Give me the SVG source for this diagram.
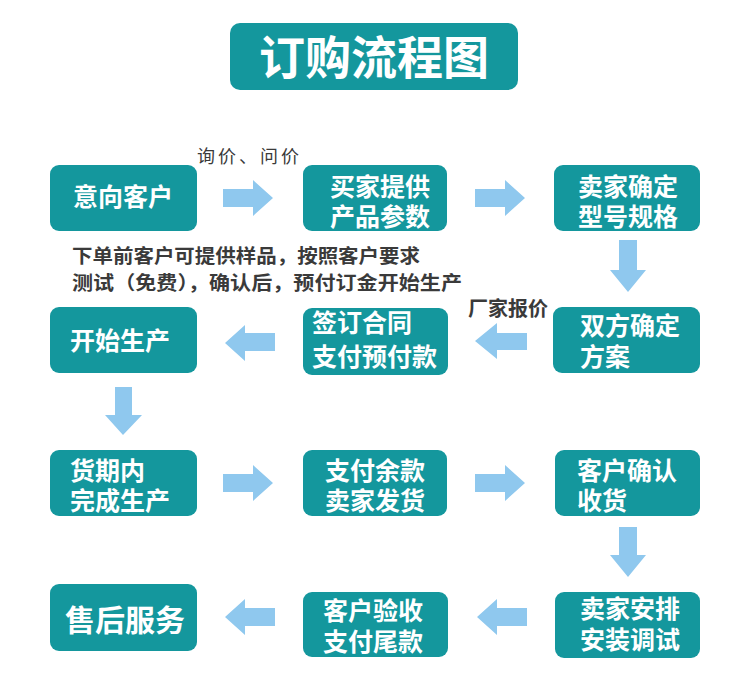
<svg xmlns="http://www.w3.org/2000/svg" width="750" height="681" viewBox="0 0 750 681">
<style>
.box{fill:#14979d;}
.bt{font-family:"Noto Sans CJK SC","Noto Sans",sans-serif;font-weight:bold;font-size:25px;fill:#ffffff;}
.nt{font-family:"Noto Sans CJK SC","Noto Sans",sans-serif;font-size:19px;fill:#3a3a3a;}
.arr{fill:#8fc8ee;}
</style>
<rect width="750" height="681" fill="#ffffff"/>
<g id="title">
<rect x="230" y="23" width="288" height="67" rx="10" class="box"/>
<text x="374" y="74" text-anchor="middle" class="bt" style="font-size:46px">订购流程图</text>
</g>
<g id="n1"><rect x="50" y="165" width="147" height="66" rx="9" class="box"/><text x="73" y="206" class="bt">意向客户</text></g>
<g id="n2"><rect x="303" y="165" width="144" height="66" rx="9" class="box"/><text class="bt"><tspan x="330" y="196">买家提供</tspan><tspan x="330" y="226">产品参数</tspan></text></g>
<g id="n3"><rect x="554" y="165" width="146" height="66" rx="9" class="box"/><text class="bt"><tspan x="578" y="196">卖家确定</tspan><tspan x="578" y="226">型号规格</tspan></text></g>
<g id="n4"><rect x="553" y="307" width="147" height="66" rx="9" class="box"/><text class="bt"><tspan x="580" y="335">双方确定</tspan><tspan x="580" y="366">方案</tspan></text></g>
<g id="n5"><rect x="303" y="308" width="145" height="67" rx="9" class="box"/><text class="bt"><tspan x="312" y="332">签订合同</tspan><tspan x="312" y="366">支付预付款</tspan></text></g>
<g id="n6"><rect x="50" y="307" width="147" height="66" rx="9" class="box"/><text x="70" y="350" class="bt">开始生产</text></g>
<g id="n7"><rect x="50" y="450" width="147" height="66" rx="9" class="box"/><text class="bt"><tspan x="70" y="480">货期内</tspan><tspan x="70" y="510">完成生产</tspan></text></g>
<g id="n8"><rect x="303" y="450" width="144" height="66" rx="9" class="box"/><text class="bt"><tspan x="325" y="480">支付余款</tspan><tspan x="325" y="510">卖家发货</tspan></text></g>
<g id="n9"><rect x="555" y="450" width="145" height="66" rx="9" class="box"/><text class="bt"><tspan x="577" y="480">客户确认</tspan><tspan x="577" y="510">收货</tspan></text></g>
<g id="n10"><rect x="555" y="592" width="145" height="66" rx="9" class="box"/><text class="bt"><tspan x="580" y="618">卖家安排</tspan><tspan x="580" y="649">安装调试</tspan></text></g>
<g id="n11"><rect x="303" y="592" width="145" height="65" rx="9" class="box"/><text class="bt"><tspan x="323" y="620">客户验收</tspan><tspan x="323" y="651">支付尾款</tspan></text></g>
<g id="n12"><rect x="50" y="584" width="147" height="67" rx="9" class="box"/><text x="65" y="631" class="bt" style="font-size:30px">售后服务</text></g>
<g id="connectors">
<polygon class="arr" points="223,189 253,189 253,180 273,198 253,216 253,207 223,207"/>
<polygon class="arr" points="475,189 505,189 505,180 525,198 505,216 505,207 475,207"/>
<polygon class="arr" points="619,240 637,240 637,270 646,270 628,292 610,270 619,270"/>
<polygon class="arr" points="527,333 497,333 497,323 475,341 497,359 497,350 527,350"/>
<polygon class="arr" points="275,333 245,333 245,325 225,343 245,361 245,351 275,351"/>
<polygon class="arr" points="115,387 132,387 132,415 142,415 123,435 105,415 115,415"/>
<polygon class="arr" points="223,474 253,474 253,465 273,483 253,501 253,492 223,492"/>
<polygon class="arr" points="475,474 505,474 505,465 525,483 505,501 505,492 475,492"/>
<polygon class="arr" points="619,527 637,527 637,555 646,555 628,577 610,555 619,555"/>
<polygon class="arr" points="527,608 497,608 497,599 477,617 497,635 497,626 527,626"/>
<polygon class="arr" points="275,608 245,608 245,599 225,617 245,635 245,626 275,626"/>
</g>
<g id="labels">
<text x="197" y="163" class="nt" style="font-size:18px;letter-spacing:3px">询价、问价</text>
<text x="72" y="263" class="nt" style="font-weight:bold" textLength="348" lengthAdjust="spacingAndGlyphs">下单前客户可提供样品，按照客户要求</text>
<text x="72" y="290" class="nt" style="font-weight:bold" textLength="390" lengthAdjust="spacingAndGlyphs">测试（免费），确认后，预付订金开始生产</text>
<text x="468" y="316" class="nt" style="font-weight:bold;font-size:20px">厂家报价</text>
</g>
</svg>
